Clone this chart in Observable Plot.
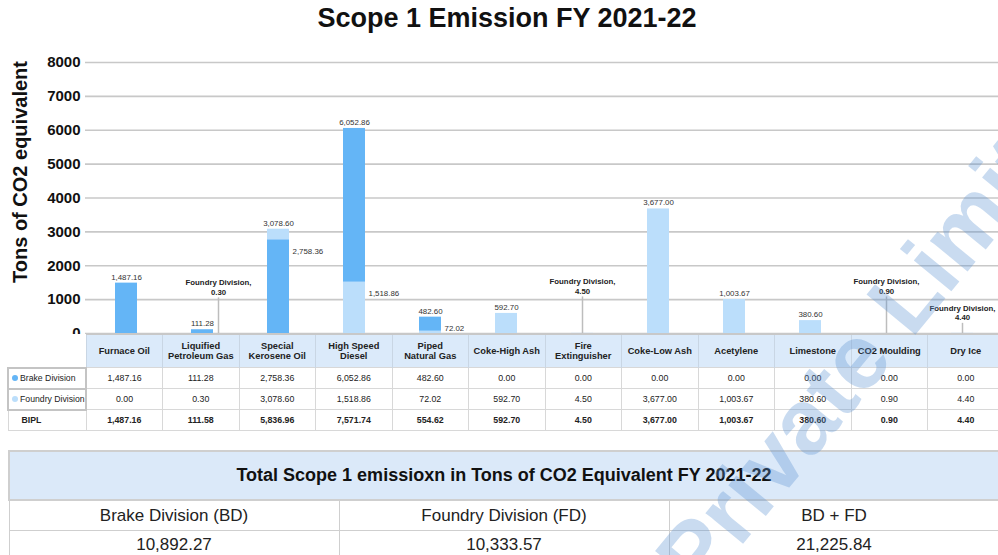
<!DOCTYPE html>
<html><head><meta charset="utf-8">
<script src="https://cdn.jsdelivr.net/npm/d3@7"></script>
<script src="https://cdn.jsdelivr.net/npm/@observablehq/plot@0.6"></script>
<style>
html,body{margin:0;padding:0;background:#fff;}
body{width:998px;height:555px;overflow:hidden;position:relative;font-family:"Liberation Sans",Arial,sans-serif;color:#222;}
#title{position:absolute;left:0;top:0;width:1014px;text-align:center;font-size:27px;font-weight:bold;line-height:36px;color:#111;}
#ylabel{position:absolute;left:20px;top:172px;transform:translate(-50%,-50%) rotate(-90deg);font-size:20px;font-weight:bold;white-space:nowrap;color:#111;}
#chart{position:absolute;left:0;top:45px;}
#dtable{position:absolute;left:7px;top:333px;border-collapse:collapse;table-layout:fixed;width:996px;}
#dtable th{background:#dbeafa;font-size:9.3px;font-weight:bold;line-height:10.5px;height:32px;padding:0;border-left:1px solid #c9d6e4;border-right:1px solid #c9d6e4;border-top:2px solid #c8c8c8;color:#222;white-space:nowrap;}
#dtable th.blank{background:#fff;border:none;}
#dtable td{font-size:8.8px;text-align:center;height:19px;padding:0;border:1px solid #d8d8d8;color:#222;}
#dtable td.lab{text-align:left;font-size:8.7px;padding-left:3px;border:2px solid #c4c4c4;white-space:nowrap;overflow:hidden;}
#dtable tr.tot td{font-weight:bold;}
#dtable tr.tot td.lab{border:1px solid #d8d8d8;padding-left:13px;}
.dot{display:inline-block;width:6px;height:6px;border-radius:50%;margin-right:2px;vertical-align:0px;}
#ttable{position:absolute;left:8px;top:450px;width:992px;border-collapse:collapse;table-layout:fixed;}
#ttable th{background:#dbe9f9;font-size:18px;font-weight:bold;height:45px;border:2px solid #cfcfcf;color:#111;}
#ttable td{font-size:17px;text-align:center;border:1px solid #cfcfcf;color:#222;padding:0;}
#ttable tr.h td{height:29px;}
#ttable tr.v td{height:28px;}
#wm{position:absolute;left:0;top:0;pointer-events:none;}
</style>
</head><body>
<div id="title">Scope 1 Emission FY 2021-22</div>
<div id="ylabel">Tons of CO2 equivalent</div>
<div id="chart"></div>
<table id="dtable"></table>
<table id="ttable"></table>
<svg id="wm" width="998" height="555"></svg>
<script>
// ---- data ----
const categories = ["Furnace Oil","Liquified Petroleum Gas","Special Kerosene Oil","High Speed Diesel","Piped Natural Gas","Coke-High Ash","Fire Extinguisher","Coke-Low Ash","Acetylene","Limestone","CO2 Moulding","Dry Ice"];
const headerLines = [["Furnace Oil"],["Liquified","Petroleum Gas"],["Special","Kerosene Oil"],["High Speed","Diesel"],["Piped","Natural Gas"],["Coke-High Ash"],["Fire","Extinguisher"],["Coke-Low Ash"],["Acetylene"],["Limestone"],["CO2 Moulding"],["Dry Ice"]];
const seriesNames = ["Brake Division","Foundry Division"];
const brake   = [1487.16,111.28,2758.36,6052.86,482.60,0,0,0,0,0,0,0];
const foundry = [0,0.30,3078.60,1518.86,72.02,592.70,4.50,3677.00,1003.67,380.60,0.90,4.40];
const totalRowName = "BIPL";
const bipl    = [1487.16,111.58,5836.96,7571.74,554.62,592.70,4.50,3677.00,1003.67,380.60,0.90,4.40];
const yTicks  = [0,1000,2000,3000,4000,5000,6000,7000,8000];
const totalsTitle = "Total Scope 1 emissioxn in Tons of CO2 Equivalent FY 2021-22";
const totalHeads  = ["Brake Division (BD)","Foundry Division (FD)","BD + FD"];
const totalValues = [10892.27,10333.57,21225.84];
const watermark = "Private Limited";
const colors = ["#64b5f6","#bbdefb"];

// ---- build ----
const fmt = d3.format(",.2f");
const seriesValues = [brake, foundry];
const bars = [], topLabels = [], sideLabels = [], callouts = [];
categories.forEach((c, i) => {
  const vals = seriesNames.map((s, k) => ({cat: c, series: s, value: seriesValues[k][i]}))
    .filter(d => d.value > 0).sort((a, b) => b.value - a.value);
  vals.forEach(d => bars.push(d));
  const big = vals.filter(d => d.value >= 10), small = vals.filter(d => d.value < 10);
  if (big[0]) topLabels.push(big[0]);
  if (big[1]) sideLabels.push(big[1]);
  small.forEach(d => callouts.push({...d, offset: big.length > 0}));
});
bars.sort((a, b) => b.value - a.value); // larger bar behind, smaller in front
// leader-line heights for the small-value callouts (annotation layout)
const calloutTop = {"Liquified Petroleum Gas": 1050, "Fire Extinguisher": 1080, "CO2 Moulding": 1080, "Dry Ice": 300};
const calloutText = d => d.series + ",\n" + fmt(d.value);
const co0 = callouts.filter(d => !d.offset), co1 = callouts.filter(d => d.offset);

const chart = Plot.plot({
  width: 998, height: 295,
  marginLeft: 85, marginRight: 0, marginTop: 17, marginBottom: 7,
  style: {fontFamily: "Liberation Sans, Arial, sans-serif", background: "transparent", overflow: "visible"},
  x: {domain: categories, range: [85, 1003], paddingInner: 0.71, paddingOuter: 0.355, axis: null},
  y: {domain: [0, 8000]},
  color: {domain: seriesNames, range: colors},
  marks: [
    Plot.gridY(yTicks, {stroke: "#c8c8c8", strokeOpacity: 1, strokeWidth: 1.6}),
    Plot.axisY(yTicks, {tickSize: 0, tickPadding: 5, tickFormat: "d", fontSize: 15, fontWeight: "bold", fill: "#111", label: null}),
    Plot.barY(bars, {x: "cat", y1: 0, y2: "value", fill: "series"}),
    Plot.text(topLabels, {x: "cat", y: "value", text: d => fmt(d.value), dy: -6, fontSize: 7.9, fill: "#333"}),
    Plot.text(sideLabels, {x: "cat", y: d => Math.max(d.value - 325, 160), text: d => fmt(d.value), textAnchor: "start", dx: 14, fontSize: 7.9, fill: "#333"}),
    Plot.ruleX(co0, {x: "cat", y1: 0, y2: d => calloutTop[d.cat], stroke: "#bdbdbd", strokeWidth: 1.5}),
    Plot.ruleX(co1, {x: "cat", y1: 0, y2: d => calloutTop[d.cat], dx: 16, stroke: "#bdbdbd", strokeWidth: 1.5}),
    Plot.text(co0, {x: "cat", y: d => calloutTop[d.cat], text: calloutText, lineAnchor: "bottom", dy: -3, fontSize: 7.8, fontWeight: "bold", fill: "#222", lineHeight: 1.25}),
    Plot.text(co1, {x: "cat", y: d => calloutTop[d.cat], text: calloutText, lineAnchor: "bottom", dy: -3, dx: 16, fontSize: 7.8, fontWeight: "bold", fill: "#222", lineHeight: 1.25})
  ]
});
document.getElementById("chart").appendChild(chart);

// data table
const dt = document.getElementById("dtable");
let html = '<colgroup><col style="width:78px">' + categories.map(() => '<col style="width:76.5px">').join("") + '</colgroup>';
html += '<tr><th class="blank"></th>' + headerLines.map(l => '<th>' + l.join("<br>") + '</th>').join("") + '</tr>';
seriesNames.forEach((s, k) => {
  html += '<tr><td class="lab"><span class="dot" style="background:' + colors[k] + '"></span>' + s + '</td>' +
    seriesValues[k].map(v => '<td>' + fmt(v) + '</td>').join("") + '</tr>';
});
html += '<tr class="tot"><td class="lab">' + totalRowName + '</td>' + bipl.map(v => '<td>' + fmt(v) + '</td>').join("") + '</tr>';
dt.innerHTML = html;

// totals table
const tt = document.getElementById("ttable");
tt.innerHTML = '<tr><th colspan="3">' + totalsTitle + '</th></tr>' +
  '<tr class="h">' + totalHeads.map(h => '<td>' + h + '</td>').join("") + '</tr>' +
  '<tr class="v">' + totalValues.map(v => '<td>' + fmt(v) + '</td>').join("") + '</tr>';

// watermark
const wm = d3.select("#wm");
wm.append("text").attr("x", 700).attr("y", 596).attr("transform", "rotate(-50.5 700 596)")
  .attr("font-family", "Liberation Sans, Arial, sans-serif").attr("font-size", 92).attr("font-weight", "bold")
  .attr("fill", "rgb(90,145,210)").attr("fill-opacity", 0.33).text(watermark);
</script>
</body></html>
